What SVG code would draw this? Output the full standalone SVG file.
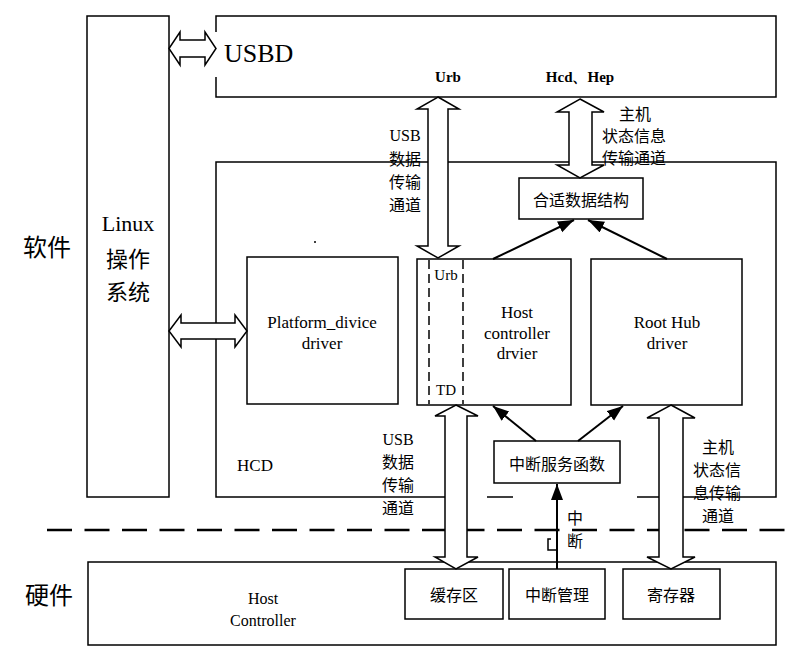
<svg xmlns="http://www.w3.org/2000/svg" width="800" height="651" viewBox="0 0 800 651">
<defs>
<style>
.box{fill:#fff;stroke:#000;stroke-width:1.5}
.edge{fill:none;stroke:#000;stroke-width:1.5}
.dbl{fill:#fff;stroke:#000;stroke-width:1.5;stroke-linejoin:miter}
.ln{fill:none;stroke:#000;stroke-width:2}
.dash{fill:none;stroke:#000;stroke-width:1.5;stroke-dasharray:9 5}
.sep{fill:none;stroke:#000;stroke-width:2.5;stroke-dasharray:25 12.5}
text{fill:#000;dominant-baseline:central;text-anchor:middle}
.en{font-family:'Liberation Serif','DejaVu Serif',serif;font-size:17px}
.enb{font-family:'Liberation Serif','DejaVu Serif',serif;font-size:15px;font-weight:bold}
.zh{font-family:'Noto Sans CJK SC',sans-serif;font-size:16px}
.big{font-family:'Noto Sans CJK SC',sans-serif;font-size:24px}
</style>
<marker id="tri" markerUnits="userSpaceOnUse" markerWidth="18" markerHeight="14" refX="16" refY="6" orient="auto">
<path d="M0,0 L16,6 L0,12 z" fill="#000"/>
</marker>
</defs>

<rect width="800" height="651" fill="#fff"/>

<g id="side-labels">
<text class="big" x="47" y="245">软件</text>
<text class="big" x="49" y="593">硬件</text>
</g>

<g id="separator">
<line class="sep" x1="47" y1="530" x2="792" y2="530"/>
</g>

<g id="linux">
<rect class="box" x="87" y="16" width="82" height="481"/>
<text class="en" x="128" y="223" style="font-size:22px">Linux</text>
<text class="zh" x="128" y="257" style="font-size:22px">操作</text>
<text class="zh" x="128" y="290" style="font-size:22px">系统</text>
</g>

<g id="usbd">
<path class="edge" d="M216,32 V16 H776 V97 H216 V77"/>
<text class="en" x="224" y="53" style="font-size:26px;text-anchor:start">USBD</text>
<text class="enb" x="448" y="77">Urb</text>
<text class="enb" x="580" y="77">Hcd、Hep</text>
</g>

<g id="hcd">
<path class="edge" d="M445,497 H216 V162 H776 V497 H683 M487,497 H513 M637,497 H659"/>
<text class="en" x="255" y="465">HCD</text>
</g>

<g id="data-struct">
<rect class="box" x="519" y="178" width="124" height="41"/>
<text class="zh" x="581" y="199">合适数据结构</text>
</g>

<g id="platform">
<rect class="box" x="247" y="257" width="151" height="147"/>
<text class="en" x="322" y="322">Platform_divice</text>
<text class="en" x="322" y="343">driver</text>
<circle cx="315" cy="242" r="1" fill="#000"/>
</g>

<g id="hcdriver">
<rect class="box" x="417" y="259" width="154" height="146"/>
<line class="dash" x1="429" y1="260" x2="429" y2="404"/>
<line class="dash" x1="463" y1="260" x2="463" y2="404"/>
<text class="en" x="446" y="275" style="font-size:15px">Urb</text>
<text class="en" x="446" y="390" style="font-size:15px">TD</text>
<text class="en" x="517" y="312">Host</text>
<text class="en" x="517" y="333">controller</text>
<text class="en" x="517" y="353">drvier</text>
</g>

<g id="roothub">
<rect class="box" x="591" y="259" width="151" height="146"/>
<text class="en" x="667" y="322">Root Hub</text>
<text class="en" x="667" y="343">driver</text>
</g>

<g id="isr">
<rect class="box" x="494" y="441" width="126" height="42"/>
<text class="zh" x="557" y="463">中断服务函数</text>
</g>

<g id="host-controller">
<rect class="box" x="88" y="562" width="688" height="83"/>
<text class="en" x="263" y="598" style="font-size:16px">Host</text>
<text class="en" x="263" y="620" style="font-size:16px">Controller</text>
</g>

<g id="buffer">
<rect class="box" x="405" y="569" width="98" height="50"/>
<text class="zh" x="454" y="594">缓存区</text>
</g>

<g id="irq-mgmt">
<rect class="box" x="509" y="569" width="96" height="50"/>
<text class="zh" x="557" y="594">中断管理</text>
</g>

<g id="registers">
<rect class="box" x="623" y="569" width="97" height="50"/>
<text class="zh" x="671" y="594">寄存器</text>
</g>

<g id="connectors">
<polygon class="dbl" points="169,48.5 180,32 180,40 205,40 205,32 216,48.5 205,65 205,57 180,57 180,65"/>
<polygon class="dbl" points="169,331 181,315 181,323 235,323 235,315 247,331 235,347 235,339 181,339 181,347"/>
<polygon class="dbl" points="438,97 459,109 448,109 448,246 459,246 438,258 417,246 428,246 428,109 417,109"/>
<polygon class="dbl" points="580,99 604,112 592,112 592,165 604,165 580,178 557,165 569,165 569,112 557,112"/>
<polygon class="dbl" points="456,405 478,416 467,416 467,557 478,557 456,569 435,557 445,557 445,416 435,416"/>
<polygon class="dbl" points="671,405 695,418 683,418 683,557 695,557 671,569 647,557 659,557 659,418 647,418"/>
<line class="ln" x1="493" y1="259" x2="574" y2="220" marker-end="url(#tri)"/>
<line class="ln" x1="667" y1="259" x2="588" y2="220" marker-end="url(#tri)"/>
<line class="ln" x1="536" y1="441" x2="493" y2="406" marker-end="url(#tri)"/>
<line class="ln" x1="578" y1="441" x2="623" y2="406" marker-end="url(#tri)"/>
<line class="ln" x1="557" y1="569" x2="557" y2="484" marker-end="url(#tri)"/>
<polyline class="edge" points="551,539 548,539 548,550 557,550"/>
</g>

<g id="channel-labels">
<text class="en" x="405" y="135" style="font-size:16px">USB</text>
<text class="zh" x="405" y="158">数据</text>
<text class="zh" x="405" y="181">传输</text>
<text class="zh" x="405" y="204">通道</text>
<text class="zh" x="635" y="113">主机</text>
<text class="zh" x="634" y="135">状态信息</text>
<text class="zh" x="634" y="157">传输通道</text>
<text class="en" x="398" y="439" style="font-size:16px">USB</text>
<text class="zh" x="398" y="461">数据</text>
<text class="zh" x="398" y="484">传输</text>
<text class="zh" x="398" y="507">通道</text>
<text class="zh" x="718" y="446">主机</text>
<text class="zh" x="717" y="469">状态信</text>
<text class="zh" x="717" y="492">息传输</text>
<text class="zh" x="718" y="515">通道</text>
<text class="zh" x="575" y="517">中</text>
<text class="zh" x="575" y="540">断</text>
</g>
</svg>
